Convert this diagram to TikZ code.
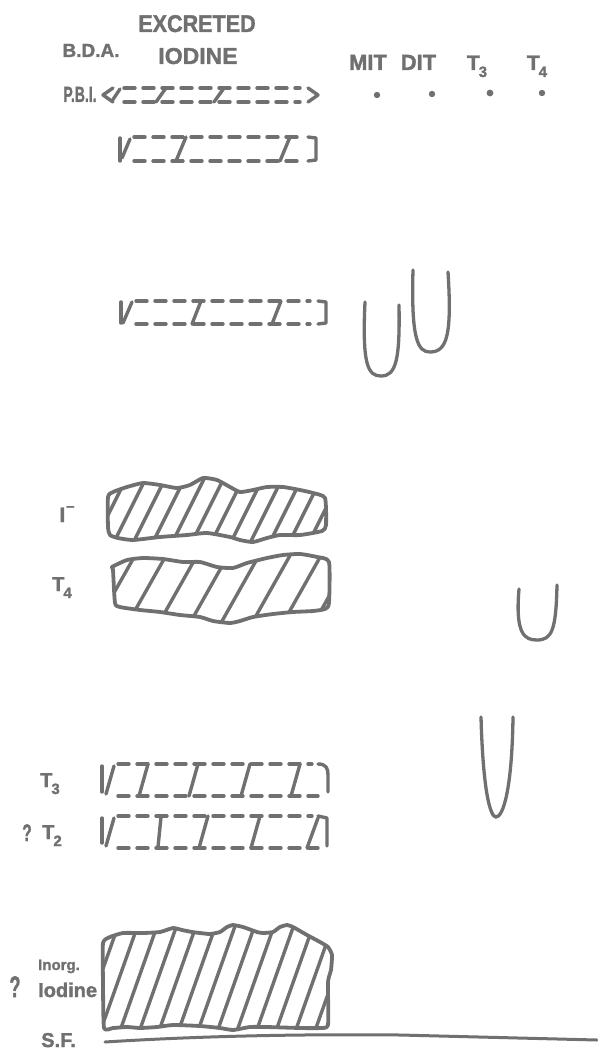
\documentclass[tikz,border=0pt]{standalone}
\usepackage{fontspec}
\setmainfont{Liberation Sans}[BoldFeatures={FakeBold=1.6}]
\usepackage{graphicx}
\definecolor{ink}{RGB}{112,112,112}
\newcommand\lf[1]{\bfseries\fontsize{#1}{#1}\selectfont}
\tikzset{
  lbl/.style={text=ink, inner sep=0pt, anchor=base},
  solidstroke/.style={draw=ink, line width=3.4pt, line cap=round, line join=round},
  dashedge/.style={draw=ink, line width=3.4pt, line cap=round, dash pattern=on 11pt off 8pt},
  outline/.style={draw=ink, line width=3.8pt, line join=round},
  hatch/.style={draw=ink, line width=3.4pt},
  spot/.style={draw=ink, line width=3.3pt, line cap=round},
  dotmark/.style={fill=ink, draw=none}
}
\begin{document}
\begin{tikzpicture}[x=1pt,y=-1pt]
\useasboundingbox (0,0) rectangle (597,1056);

% ---------- labels ----------
\node[lbl, font=\lf{22}] (excr) at (197,32) {\scalebox{0.98}[1.1]{EXCRETED}};
\node[lbl, font=\lf{19}] (bda) at (91,57) {B.D.A.};
\node[lbl, font=\lf{23}] (iod) at (198,64) {IODINE};
\node[lbl, font=\lf{20}] (pbi) at (80,102) {\scalebox{0.7}[1.1]{P.B.I.}};
\node[lbl, font=\lf{22}] (mit) at (368,70) {MIT};
\node[lbl, font=\lf{22}] (dit) at (418.5,70) {DIT};
\node[lbl, font=\lf{21}] (t3h) at (477,70) {T\kern-1pt\raisebox{-7pt}{\fontsize{15}{15}\selectfont 3}};
\node[lbl, font=\lf{21}] (t4h) at (537,70) {T\kern-1pt\raisebox{-7pt}{\fontsize{15}{15}\selectfont 4}};
\node[lbl, font=\lf{21}] (ilab) at (67,522) {I\kern1pt\raisebox{11pt}{\fontsize{15}{15}\selectfont –}};
\node[lbl, font=\lf{20}] (t4lab) at (62,591) {T\kern-1pt\raisebox{-7pt}{\fontsize{15}{15}\selectfont 4}};
\node[lbl, font=\lf{20}] (t3lab) at (50,787) {T\kern-1pt\raisebox{-7pt}{\fontsize{15}{15}\selectfont 3}};
\node[lbl, font=\lf{20}] (t2lab) at (52,839) {T\kern-1pt\raisebox{-7pt}{\fontsize{15}{15}\selectfont 2}};
\node[lbl, font=\lf{24}] (q2) at (27,841) {\scalebox{0.65}[1]{?}};
\node[lbl, font=\lf{30}] (q1) at (15,997) {\scalebox{0.6}[1]{?}};
\node[lbl, font=\lf{15}, anchor=base west] (inorg) at (38,970) {Inorg.};
\node[lbl, font=\lf{20}, anchor=base west] (iodl) at (38,997) {Iodine};
\node[lbl, font=\lf{20}] (sf) at (58.5,1047) {S.F.};

% ---------- spots on the MIT/DIT/T3/T4 start line ----------
\fill[dotmark] (377,95) circle (3.2);
\fill[dotmark] (432,94) circle (3.2);
\fill[dotmark] (490,93) circle (3.4);
\fill[dotmark] (542,93) circle (3.2);

% ---------- band A (P.B.I.) ----------
\draw[solidstroke] (113,88) -- (103,95) -- (113,102);
\draw[solidstroke] (308,88) -- (318,95) -- (308,102);
\draw[dashedge] (124,88) -- (300,88);
\draw[dashedge] (124,102) -- (300,102);
\draw[solidstroke] (112,101) -- (120,89);
\draw[solidstroke] (156,102) -- (166,88);
\draw[solidstroke] (214,102) -- (224,88);

% ---------- band B ----------
\draw[solidstroke] (120,138) -- (120,161);
\draw[solidstroke] (122,158) -- (130,139);
\draw[solidstroke] (308,137) -- (316,138) -- (316,160) -- (308,161);
\draw[dashedge] (134,137) -- (300,137);
\draw[dashedge] (134,161) -- (300,161);
\draw[solidstroke] (176,161) -- (186,137);
\draw[solidstroke] (280,161) -- (290,137);

% ---------- band C ----------
\draw[solidstroke] (121,302) -- (121,323);
\draw[solidstroke] (123,323) -- (132,302);
\draw[solidstroke] (318,301) -- (326,302) -- (326,323) -- (318,324);
\draw[dashedge] (136,301) -- (310,301);
\draw[dashedge] (136,324) -- (310,324);
\draw[solidstroke] (192,324) -- (201,301);
\draw[solidstroke] (272,324) -- (281,301);

% ---------- band T3 ----------
\draw[solidstroke] (102,766) -- (102,792);
\draw[solidstroke] (106,794) -- (114,766);
\draw[solidstroke] (318,764) .. controls (326,764) and (328,768) .. (328,775) -- (328,792);
\draw[dashedge] (118,764) -- (312,764);
\draw[dashedge] (118,796) -- (318,796);
\draw[solidstroke] (139,796) -- (148,764);
\draw[solidstroke] (189,796) -- (198,764);
\draw[solidstroke] (241,796) -- (250,764);
\draw[solidstroke] (291,796) -- (300,764);

% ---------- band T2 ----------
\draw[solidstroke] (102,818) -- (102,843);
\draw[solidstroke] (106,846) -- (114,818);
\draw[solidstroke] (318,816) -- (327,818) -- (327,846);
\draw[dashedge] (118,816) -- (312,816);
\draw[dashedge] (118,848) -- (318,848);
\draw[solidstroke] (158,847) -- (161,817);
\draw[solidstroke] (199,848) -- (208,816);
\draw[solidstroke] (251,848) -- (260,816);
\draw[solidstroke] (307,848) -- (318,818);

% ---------- spots (U shapes) ----------
\draw[spot] (365,302) .. controls (362,365) and (368,376) .. (381,376) .. controls (396,376) and (400,360) .. (399,305);
\draw[spot] (413,270) .. controls (411,340) and (418,352) .. (430,352) .. controls (447,352) and (452,335) .. (448,272);
\draw[spot] (519,589) .. controls (515,635) and (525,640) .. (537,640) .. controls (552,640) and (556,630) .. (557,585);
\draw[spot] (481,717) .. controls (483,790) and (490,817) .. (496,817) .. controls (503,817) and (512,790) .. (513,717);

% ---------- I- band (hatched) ----------
\def\Ipath{plot[smooth cycle, tension=0.35] coordinates {
 (108,497) (113,492) (127,487) (143,483) (160,485) (177,488) (190,485) (203,478) (217,480)
 (230,487) (240,492) (253,490) (267,487) (283,487) (300,490) (313,493) (325,498)
 (326,525) (322,531) (300,535) (280,535) (267,538) (253,542) (240,540) (230,537)
 (207,533) (187,535) (160,537) (133,540) (118,538) (110,535) (108,527)}}
\begin{scope}
 \clip \Ipath;
 \foreach \x in {72,91.5,...,340} { \draw[hatch] (\x,548) -- (\x+35,478); }
\end{scope}
\draw[outline] \Ipath;

% ---------- T4 band (hatched) ----------
\def\Tpath{plot[smooth cycle, tension=0.35] coordinates {
 (112,567) (127,560) (143,558) (163,559) (183,562) (200,562) (217,567) (233,568) (247,563)
 (267,558) (283,555) (300,554) (317,557) (329,562) (329,603) (325,609) (313,611) (293,612)
 (273,614) (253,617) (240,621) (230,623) (213,621) (200,617) (180,615) (160,612) (140,610)
 (120,607) (115,603) (113,570)}}
\begin{scope}
 \clip \Tpath;
 \foreach \x in {62,93,...,340} { \draw[hatch] (\x,630) -- (\x+44,552); }
\end{scope}
\draw[outline] \Tpath;

% ---------- inorganic iodine block (hatched) ----------
\def\Bpath{plot[smooth cycle, tension=0.3] coordinates {
 (103,943) (110,937) (123,933) (143,933) (160,932) (173,928) (182,930) (192,932) (200,933)
 (210,934) (220,932) (227,927) (233,925) (243,927) (257,932) (263,933) (273,932) (280,927)
 (287,925) (293,927) (307,935) (320,942) (328,947) (332,955) (331,970) (328,982) (328,1025)
 (320,1028) (300,1028) (267,1027) (250,1027) (233,1030) (220,1028) (200,1026) (173,1025)
 (157,1027) (140,1028) (127,1027) (113,1028) (104,1028) (103,983)}}
\begin{scope}
 \clip \Bpath;
 \foreach \x in {60,79.5,...,340} { \draw[hatch] (\x,1035) -- (\x+40,922); }
\end{scope}
\draw[outline] \Bpath;

% ---------- solvent front line ----------
\coordinate (sfa) at (105,1042);
\coordinate (sfb) at (400,1035);
\coordinate (sfc) at (597,1040);
\draw[solidstroke, line width=3pt] (sfa) .. controls (200,1036) and (300,1034) .. (sfb) -- (sfc);
\end{tikzpicture}
\end{document}
